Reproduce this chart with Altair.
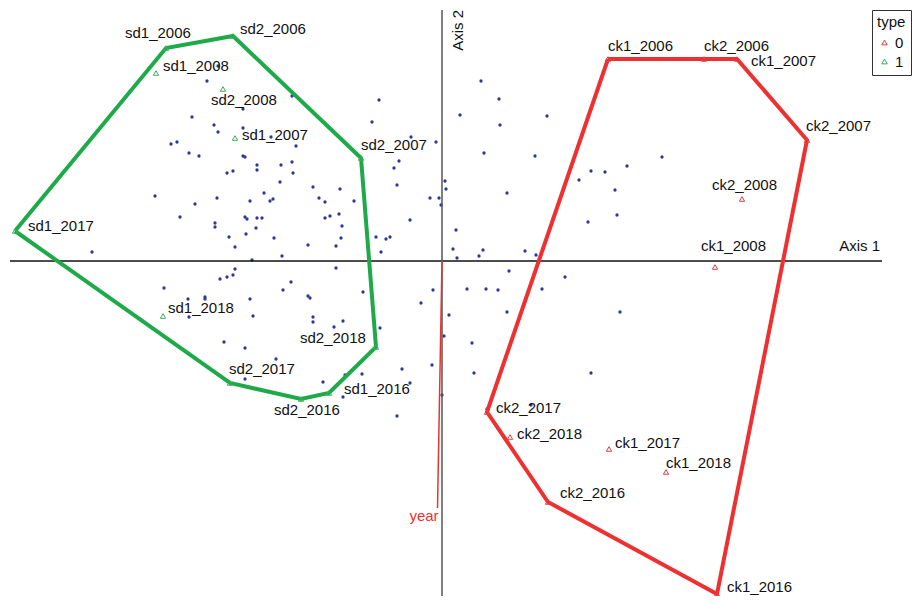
import altair as alt
import pandas as pd

# ---- species scores (blue dots), ordination units ----
sp_x = [-2.24, -2.35, -1.50, -0.63, -1.99, -2.50, -0.70, -2.28, -2.24, -1.99,
        -1.71, -1.46, -2.71, -2.65, -2.53, -2.43, -1.99, -1.97, -0.31, -0.06,
        0.18, -0.43, -0.48, -1.85, -1.85, -1.61, -1.50, -1.49, -2.15, -2.09,
        -1.62, -1.29, -1.02, -0.45, 0.03, 0.04, -2.87, -2.47, -2.25, -1.92,
        -1.78, -1.72, -1.69, -1.23, -1.17, -0.88, -0.12, -0.03, -0.01, -2.62,
        -2.27, -2.27, -1.97, -1.95, -1.85, -1.80, -1.86, -1.17, -1.12, -1.03,
        -1.00, -0.32, 0.14, -2.13, -1.96, -1.68, -2.07, -1.34, -1.06, -1.01,
        -0.66, -0.56, -0.52, -0.61, 0.11, 0.15, -3.50, -1.60, -1.90, -1.06,
        -2.07, -2.09, -2.15, -2.22, -2.78, -1.51, -1.59, -1.34, -1.32, -0.79,
        -0.09, -2.54, -2.37, -2.37, -1.92, -2.53, -1.89, -1.29, -1.29, -1.08,
        -0.99, -0.21, 0.07, 0.02, -0.62, -2.18, -1.97, -1.66, -1.97, -0.40,
        -0.10, -0.80, -0.97, -1.19, -0.32, -0.99, 0.00, -0.45, 0.39, 0.57,
        1.05, 0.58, 0.42, 0.93, 2.20, 1.85, 1.49, 1.63, 1.37, 1.73,
        0.65, 1.75, 1.46, 0.37, 0.41, 0.83, 0.94, 0.67, 1.23, 0.25,
        0.44, 0.56, 1.00, 0.65, 1.78, 0.30, 0.32, 1.49, 0.45, 0.89]
sp_y = [1.95, 1.80, 1.65, 1.61, 1.52, 1.44, 1.39, 1.36, 1.29, 1.33,
        1.24, 1.15, 1.17, 1.19, 1.08, 1.05, 1.05, 1.04, 1.24, 1.19,
        1.46, 1.00, 0.93, 0.96, 0.91, 0.96, 0.99, 0.88, 0.88, 0.90,
        0.79, 0.74, 0.72, 0.76, 0.80, 0.72, 0.65, 0.57, 0.63, 0.60,
        0.68, 0.60, 0.62, 0.63, 0.59, 0.60, 0.63, 0.63, 0.56, 0.44,
        0.38, 0.34, 0.44, 0.42, 0.43, 0.43, 0.33, 0.43, 0.45, 0.47,
        0.35, 0.41, 0.31, 0.24, 0.27, 0.23, 0.14, 0.16, 0.15, 0.23,
        0.24, 0.22, 0.24, 0.09, 0.12, 0.03, 0.09, 0.05, 0.01, -0.07,
        -0.08, -0.14, -0.16, -0.18, -0.27, -0.21, -0.29, -0.35, -0.37, -0.31,
        -0.29, -0.38, -0.36, -0.38, -0.38, -0.56, -0.55, -0.56, -0.61, -0.66,
        -0.60, -0.42, -0.54, -0.75, -0.67, -0.81, -0.87, -0.98, -1.18, -1.08,
        -1.04, -1.13, -1.14, -1.21, -1.22, -1.36, -1.34, -1.55, 1.80, 1.62,
        1.45, 1.36, 1.08, 1.05, 1.04, 0.95, 0.90, 0.89, 0.81, 0.71,
        0.68, 0.46, 0.39, 0.05, 0.11, 0.10, 0.06, -0.10, -0.16, -0.28,
        -0.28, -0.29, -0.28, -0.51, -0.51, -0.82, -1.12, -1.12, -1.48, -1.44]

# ---- site scores ----
site_names = ["sd1_2006", "sd2_2006", "sd1_2008", "sd2_2008", "sd1_2007", "sd2_2007",
              "sd1_2017", "sd1_2018", "sd2_2018", "sd2_2017", "sd1_2016", "sd2_2016",
              "ck1_2006", "ck2_2006", "ck1_2007", "ck2_2007", "ck2_2008", "ck1_2008",
              "ck2_2017", "ck2_2018", "ck1_2017", "ck1_2018", "ck2_2016", "ck1_2016"]
site_type = ["1"] * 12 + ["0"] * 12
site_x = [-2.76, -2.09, -2.86, -2.19, -2.07, -0.81, -4.27, -2.79, -0.66, -2.12, -1.13, -1.41,
          1.66, 2.62, 2.95, 3.65, 3.00, 2.73, 0.45, 0.68, 1.67, 2.24, 1.06, 2.75]
site_y = [2.13, 2.25, 1.88, 1.72, 1.23, 1.03, 0.30, -0.55, -0.86, -1.22, -1.32, -1.38,
          2.02, 2.02, 2.02, 1.21, 0.62, -0.06, -1.51, -1.76, -1.88, -2.11, -2.41, -3.33]
label_x = [-3.17, -2.02, -2.79, -2.31, -2.00, -0.81, -4.14, -2.74, -1.42, -2.13, -0.98, -1.68,
           1.66, 2.62, 3.09, 3.64, 2.70, 2.59, 0.54, 0.75, 1.73, 2.24, 1.18, 2.85]
label_y = [2.28, 2.32, 1.95, 1.61, 1.26, 1.16, 0.35, -0.47, -0.77, -1.08, -1.28, -1.49,
           2.15, 2.15, 2.00, 1.35, 0.76, 0.15, -1.47, -1.73, -1.82, -2.02, -2.32, -3.26]

# ---- convex hulls (site order) ----
green_hull = ["sd1_2017", "sd1_2006", "sd2_2006", "sd2_2007", "sd2_2018",
              "sd1_2016", "sd2_2016", "sd2_2017", "sd1_2017"]
red_hull = ["ck1_2006", "ck1_2007", "ck2_2007", "ck1_2016", "ck2_2016",
            "ck2_2017", "ck1_2006"]

# ---- environmental vector ----
vec_name = ["year"]
vec_x = [-0.045]
vec_y = [-2.47]
vec_label_x = [-0.18]
vec_label_y = [-2.55]

# ---- axis extents ----
axis1_extent = [-4.32, 4.40]
axis2_extent = [-3.35, 2.51]

FONT = "Liberation Sans"
GREEN = "#1faa4a"
RED = "#ee3030"

xs = alt.Scale(domain=[-4.34, 4.70], nice=False, zero=False)
ys = alt.Scale(domain=[-3.35, 2.53], nice=False, zero=False)

sites = pd.DataFrame({"name": site_names, "type": site_type, "x": site_x, "y": site_y,
                      "lx": label_x, "ly": label_y})
pos = {n: (x, y) for n, x, y in zip(site_names, site_x, site_y)}


def hull_df(names):
    return pd.DataFrame({"i": list(range(len(names))),
                         "x": [pos[n][0] for n in names],
                         "y": [pos[n][1] for n in names]})


species = pd.DataFrame({"x": sp_x, "y": sp_y})

X = lambda f: alt.X(f, type="quantitative", scale=xs, axis=None)
Y = lambda f: alt.Y(f, type="quantitative", scale=ys, axis=None)

dots = alt.Chart(species).mark_circle(size=11, color="#2b3a98", opacity=1).encode(
    x=X("x"), y=Y("y"))

ax1 = alt.Chart(pd.DataFrame({"x": [axis1_extent[0]], "x2": [axis1_extent[1]], "y": [0.0]})
                ).mark_rule(color="#111111", strokeWidth=1.5).encode(
    x=X("x"), x2="x2", y=Y("y"))
ax2 = alt.Chart(pd.DataFrame({"x": [0.0], "y": [axis2_extent[1]], "y2": [axis2_extent[0]]})
                ).mark_rule(color="#555555", strokeWidth=1.5).encode(
    x=X("x"), y=Y("y"), y2="y2")

vec = alt.Chart(pd.DataFrame({"x": [0.0], "y": [0.0], "x2": vec_x, "y2": vec_y})
                ).mark_rule(color=RED, strokeWidth=1.5).encode(
    x=X("x"), y=Y("y"), x2="x2", y2="y2")

ghull = alt.Chart(hull_df(green_hull)).mark_line(color=GREEN, strokeWidth=4).encode(
    x=X("x"), y=Y("y"), order="i:Q")
rhull = alt.Chart(hull_df(red_hull)).mark_line(color=RED, strokeWidth=4).encode(
    x=X("x"), y=Y("y"), order="i:Q")

tri = alt.Chart(sites).mark_point(shape="triangle-up", filled=False, size=28,
                                  strokeWidth=1, opacity=1).encode(
    x=X("x"), y=Y("y"),
    color=alt.Color("type:N", scale=alt.Scale(domain=["0", "1"], range=["#e04040", "#3aae5a"]),
                    legend=alt.Legend(title="type", orient="none", legendX=864, legendY=2,
                                      strokeColor="#333333", fillColor="white", padding=5,
                                      titleFont=FONT, titleFontSize=15, titleFontWeight="normal",
                                      titleColor="#111111", labelFont=FONT, labelFontSize=15,
                                      labelColor="#111111", symbolType="triangle-up",
                                      symbolSize=30, symbolStrokeWidth=1, rowPadding=3,
                                      labelOffset=3)))

labels = alt.Chart(sites).mark_text(align="left", baseline="middle", font=FONT, fontSize=15,
                                    color="#111111").encode(
    x=X("lx"), y=Y("ly"), text="name:N")

axis_labels = alt.Chart(pd.DataFrame({"t": ["Axis 1"], "x": [4.38], "y": [0.15]})).mark_text(
    align="right", baseline="middle", font=FONT, fontSize=15, color="#111111").encode(
    x=X("x"), y=Y("y"), text="t:N")
axis2_label = alt.Chart(pd.DataFrame({"t": ["Axis 2"], "x": [0.16], "y": [2.51]})).mark_text(
    align="right", baseline="middle", angle=270, font=FONT, fontSize=15, color="#111111").encode(
    x=X("x"), y=Y("y"), text="t:N")
vec_label = alt.Chart(pd.DataFrame({"t": vec_name, "x": vec_label_x, "y": vec_label_y})).mark_text(
    align="center", baseline="middle", font=FONT, fontSize=15, color=RED).encode(
    x=X("x"), y=Y("y"), text="t:N")

chart = alt.layer(dots, ax1, ax2, vec, ghull, rhull, tri, labels, axis_labels, axis2_label,
                  vec_label).properties(
    width=904, height=588, padding=0, background="white",
    autosize=alt.AutoSizeParams(type="none"),
).configure_view(stroke=None)

chart.save("out.html", embed_options={"renderer": "svg", "actions": False})
